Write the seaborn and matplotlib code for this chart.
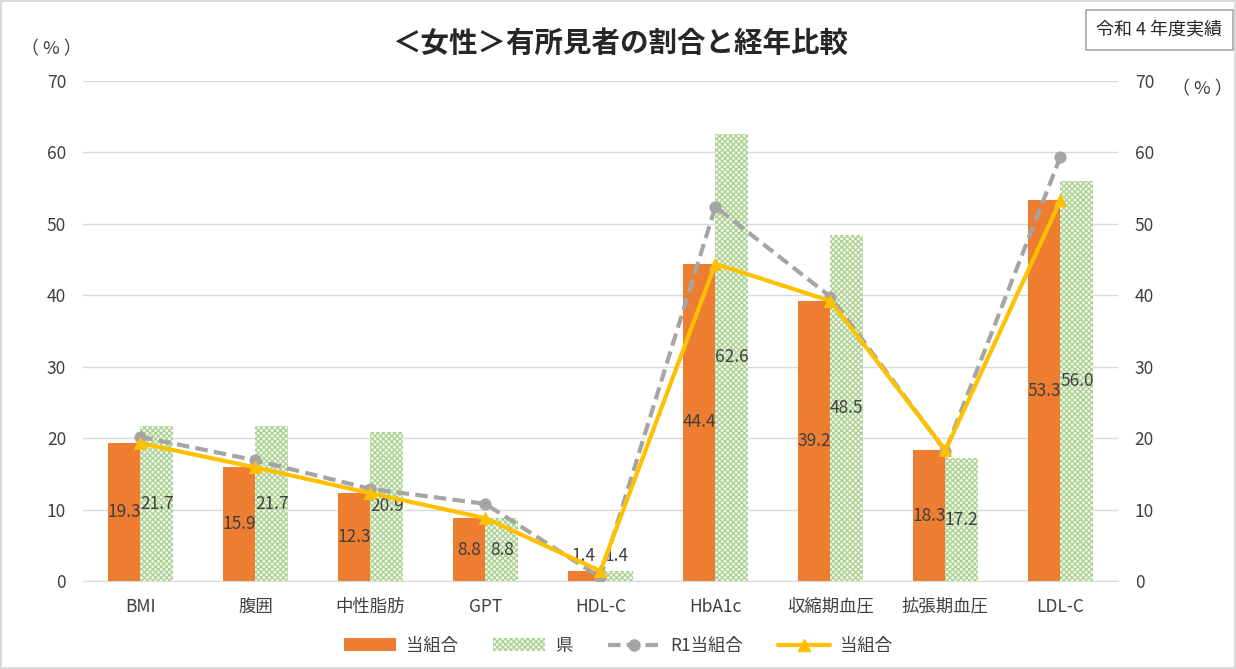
import numpy as np
import pandas as pd
import matplotlib
matplotlib.use("Agg")
import matplotlib.pyplot as plt
import seaborn as sns
from matplotlib.lines import Line2D
from matplotlib.patches import Patch

sns.set_style("white")
plt.rcParams['font.family'] = ['Noto Sans CJK JP', 'DejaVu Sans']
plt.rcParams['hatch.linewidth'] = 0.9

items = ['BMI', '腹囲', '中性脂肪', 'GPT', 'HDL-C', 'HbA1c', '収縮期血圧', '拡張期血圧', 'LDL-C']
kumiai = [19.3, 15.9, 12.3, 8.8, 1.4, 44.4, 39.2, 18.3, 53.3]
ken = [21.7, 21.7, 20.9, 8.8, 1.4, 62.6, 48.5, 17.2, 56.0]
r1_kumiai = [20.2, 16.9, 12.9, 10.8, 0.5, 52.4, 39.8, 18.2, 59.4]

orange = '#ed7d31'
green = '#a9d18e'
gray = '#a5a5a5'
yellow = '#ffc000'
txt = '#404040'
hatch = 'xxxxxx'

df = pd.DataFrame({
    'item': items * 2,
    'value': kumiai + ken,
    'series': ['当組合'] * len(items) + ['県'] * len(items),
})

fig = plt.figure(figsize=(12.36, 6.69), dpi=100)
fig.patch.set_edgecolor('#d9d9d9')
fig.patch.set_linewidth(1.5)
ax = fig.add_axes([0.067, 0.1315, 0.8375, 0.7475])

sns.barplot(data=df, x='item', y='value', hue='series', order=items,
            palette={'当組合': orange, '県': green}, width=0.57, gap=0,
            errorbar=None, ax=ax, legend=False)

# orange bars solid, green bars hatched
for bar in ax.containers[0]:
    bar.set_facecolor(orange)
    bar.set_edgecolor(orange)
    bar.set_linewidth(0)
for bar in ax.containers[1]:
    bar.set_facecolor('#f3f8ef')
    bar.set_edgecolor(green)
    bar.set_hatch(hatch)
    bar.set_linewidth(0)

for cont, vals in zip(ax.containers, [kumiai, ken]):
    mid = ['%.1f' % v if v >= 3 else '' for v in vals]
    low = ['%.1f' % v if v < 3 else '' for v in vals]
    ax.bar_label(cont, labels=mid, label_type='center', fontsize=12.5, color=txt)
    ax.bar_label(cont, labels=low, label_type='edge', padding=4, fontsize=12.5, color=txt)

ax.set_ylim(0, 70)
ax.set_yticks(range(0, 71, 10))
ax.set_xlim(-0.5, len(items) - 0.5)
ax.set_xlabel('')
ax.set_ylabel('')
ax.grid(axis='y', color='#d9d9d9', linewidth=1)
ax.set_axisbelow(True)
for s in ['top', 'left', 'right']:
    ax.spines[s].set_visible(False)
ax.spines['bottom'].set_color('#d9d9d9')
ax.tick_params(axis='both', length=0, labelsize=12.5, colors=txt, pad=12)

ax2 = ax.twinx()
x = np.arange(len(items))
sns.lineplot(x=x, y=r1_kumiai, ax=ax2, color=gray, linewidth=3, linestyle=(0, (3, 1.5)),
             marker='o', markersize=8, markeredgecolor=gray)
sns.lineplot(x=x, y=kumiai, ax=ax2, color=yellow, linewidth=3,
             marker='^', markersize=8, markeredgecolor=yellow)
ax2.set_ylim(0, 70)
ax2.set_yticks(range(0, 71, 10))
ax2.set_xlim(-0.5, len(items) - 0.5)
for s in ['top', 'left', 'right', 'bottom']:
    ax2.spines[s].set_visible(False)
ax2.tick_params(axis='y', length=0, labelsize=12.5, colors=txt, pad=12)

fig.text(0.502, 0.935, '＜女性＞有所見者の割合と経年比較', ha='center', va='center',
         fontsize=20.5, fontweight='bold', color='#262626')
fig.text(0.017, 0.926, '（ % ）', ha='left', va='center', fontsize=13, color=txt)
fig.text(0.948, 0.866, '（ % ）', ha='left', va='center', fontsize=13, color=txt)
fig.text(0.989, 0.955, '令和 4 年度実績', ha='right', va='center', fontsize=13, color='#262626',
         bbox=dict(boxstyle='square,pad=0.6', facecolor='white', edgecolor='#a6a6a6', linewidth=1.2))

handles = [
    Patch(facecolor=orange, edgecolor=orange, linewidth=0),
    Patch(facecolor='#f3f8ef', edgecolor=green, hatch=hatch, linewidth=0),
    Line2D([], [], color=gray, linewidth=3, linestyle=(0, (3, 1.5)), marker='o', markersize=8),
    Line2D([], [], color=yellow, linewidth=3, marker='^', markersize=8),
]
labels = ['当組合', '県', 'R1当組合', '当組合']
fig.legend(handles, labels, loc='center', bbox_to_anchor=(0.5, 0.035), ncol=4, frameon=False,
           fontsize=12.5, labelcolor=txt, handlelength=3.0, columnspacing=2.0, handletextpad=0.6)

fig.savefig('out.png', dpi=100, edgecolor=fig.get_edgecolor())
